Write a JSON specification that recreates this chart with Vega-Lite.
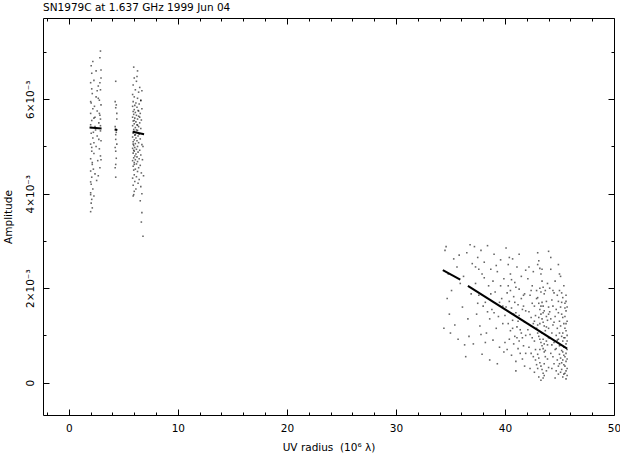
{
"$schema": "https://vega.github.io/schema/vega-lite/v6.json",
"width": 571,
"height": 397,
"autosize": "none",
"padding": {"left": 43, "top": 18, "right": 6, "bottom": 39},
"background": "white",
"config": {
  "view": {"stroke": "black", "strokeWidth": 1},
  "font": "DejaVu Sans",
  "axis": {"grid": false, "domain": false, "tickColor": "black", "tickWidth": 1, "labelColor": "black", "labelFont": "DejaVu Sans", "labelFontSize": 10.5, "titleFont": "DejaVu Sans", "titleFontSize": 10.5, "titleFontWeight": "normal", "titleColor": "black", "labelOverlap": false, "labelFlush": false, "labelBound": false}
},
"title": {"text": "SN1979C at 1.637 GHz 1999 Jun 04", "anchor": "start", "frame": "group", "fontSize": 10.5, "fontWeight": "normal", "font": "DejaVu Sans", "color": "black", "offset": -4, "baseline": "alphabetic"},
"datasets": {
"vis": [
{"u":2.05,"a":0.00671},{"u":2.9,"a":0.00702},{"u":2.85,"a":0.00688},{"u":2.1,"a":0.00655},{"u":2.95,"a":0.00662},{"u":2.3,"a":0.0064},{"u":2.0,"a":0.00635},{"u":2.7,"a":0.00628},{"u":2.9,"a":0.0062},{"u":2.15,"a":0.00612},{"u":2.5,"a":0.00605},{"u":2.8,"a":0.00598},{"u":2.05,"a":0.00592},{"u":2.95,"a":0.00588},{"u":2.2,"a":0.0058},{"u":2.6,"a":0.00575},{"u":2.0,"a":0.0057},{"u":2.85,"a":0.00566},{"u":2.3,"a":0.0056},{"u":2.1,"a":0.00555},{"u":2.75,"a":0.0055},{"u":2.0,"a":0.00546},{"u":2.4,"a":0.00542},{"u":2.9,"a":0.00533},{"u":2.05,"a":0.00528},{"u":2.6,"a":0.00522},{"u":2.2,"a":0.00518},{"u":2.95,"a":0.00512},{"u":2.0,"a":0.00505},{"u":2.5,"a":0.005},{"u":2.8,"a":0.00495},{"u":2.1,"a":0.0049},{"u":2.3,"a":0.00485},{"u":2.9,"a":0.0048},{"u":2.0,"a":0.00474},{"u":2.65,"a":0.0047},{"u":2.15,"a":0.00462},{"u":2.85,"a":0.00455},{"u":2.0,"a":0.00448},{"u":2.4,"a":0.00442},{"u":2.1,"a":0.00435},{"u":2.55,"a":0.00428},{"u":2.05,"a":0.0042},{"u":2.2,"a":0.0041},{"u":2.0,"a":0.00402},{"u":2.3,"a":0.00395},{"u":2.1,"a":0.00388},{"u":2.05,"a":0.0038},{"u":2.15,"a":0.0037},{"u":2.0,"a":0.00362},{"u":2.95,"a":0.00645},{"u":2.2,"a":0.0068},{"u":2.7,"a":0.00602},{"u":2.35,"a":0.00585},{"u":2.9,"a":0.00558},{"u":2.05,"a":0.0054},{"u":2.45,"a":0.00535},{"u":2.75,"a":0.00515},{"u":2.1,"a":0.00498},{"u":2.95,"a":0.00472},{"u":2.25,"a":0.00452},{"u":2.0,"a":0.00425},{"u":2.6,"a":0.00618},{"u":2.8,"a":0.0057},{"u":2.1,"a":0.00622},{"u":2.4,"a":0.00562},{"u":2.0,"a":0.00595},{"u":2.9,"a":0.00544},{"u":2.3,"a":0.00508},{"u":2.15,"a":0.00466},{"u":2.7,"a":0.00438},{"u":2.0,"a":0.00398},{"u":2.5,"a":0.0066},{"u":2.85,"a":0.00635},{"u":2.25,"a":0.0053},
{"u":4.3,"a":0.00638},{"u":4.25,"a":0.00595},{"u":4.35,"a":0.00588},{"u":4.3,"a":0.00582},{"u":4.4,"a":0.00558},{"u":4.25,"a":0.00542},{"u":4.3,"a":0.00536},{"u":4.35,"a":0.0053},{"u":4.3,"a":0.00525},{"u":4.4,"a":0.00505},{"u":4.25,"a":0.00498},{"u":4.3,"a":0.0049},{"u":4.35,"a":0.00475},{"u":4.3,"a":0.00462},{"u":4.25,"a":0.00455},{"u":4.3,"a":0.00435},{"u":4.4,"a":0.0057},{"u":4.3,"a":0.00515},
{"u":5.95,"a":0.00668},{"u":6.3,"a":0.0066},{"u":6.0,"a":0.00645},{"u":6.2,"a":0.00638},{"u":5.9,"a":0.0063},{"u":6.5,"a":0.00625},{"u":6.1,"a":0.0062},{"u":6.4,"a":0.00615},{"u":5.85,"a":0.0061},{"u":6.0,"a":0.00605},{"u":6.3,"a":0.00602},{"u":6.6,"a":0.00598},{"u":5.9,"a":0.00595},{"u":6.15,"a":0.00592},{"u":6.45,"a":0.0059},{"u":6.05,"a":0.00587},{"u":5.85,"a":0.00585},{"u":6.25,"a":0.00583},{"u":6.7,"a":0.0058},{"u":6.0,"a":0.00578},{"u":6.35,"a":0.00576},{"u":5.9,"a":0.00574},{"u":6.1,"a":0.00572},{"u":6.55,"a":0.0057},{"u":5.95,"a":0.00568},{"u":6.2,"a":0.00566},{"u":6.4,"a":0.00564},{"u":5.85,"a":0.00562},{"u":6.05,"a":0.0056},{"u":6.3,"a":0.00558},{"u":6.65,"a":0.00556},{"u":5.9,"a":0.00554},{"u":6.15,"a":0.00552},{"u":6.5,"a":0.0055},{"u":6.0,"a":0.00548},{"u":6.25,"a":0.00546},{"u":5.85,"a":0.00544},{"u":6.4,"a":0.00542},{"u":6.1,"a":0.0054},{"u":6.6,"a":0.00538},{"u":5.95,"a":0.00536},{"u":6.3,"a":0.00534},{"u":6.0,"a":0.00532},{"u":6.2,"a":0.0053},{"u":5.9,"a":0.00528},{"u":6.45,"a":0.00526},{"u":6.05,"a":0.00524},{"u":6.35,"a":0.00522},{"u":5.85,"a":0.0052},{"u":6.15,"a":0.00518},{"u":6.55,"a":0.00516},{"u":6.0,"a":0.00514},{"u":6.25,"a":0.00512},{"u":5.9,"a":0.0051},{"u":6.4,"a":0.00508},{"u":6.1,"a":0.00506},{"u":6.7,"a":0.00504},{"u":5.95,"a":0.00502},{"u":6.3,"a":0.005},{"u":6.05,"a":0.00498},{"u":5.85,"a":0.00496},{"u":6.2,"a":0.00494},{"u":6.5,"a":0.00492},{"u":6.0,"a":0.0049},{"u":6.35,"a":0.00488},{"u":5.9,"a":0.00486},{"u":6.15,"a":0.00484},{"u":6.6,"a":0.00482},{"u":6.05,"a":0.0048},{"u":6.25,"a":0.00478},{"u":5.95,"a":0.00476},{"u":6.45,"a":0.00474},{"u":6.1,"a":0.00472},{"u":5.85,"a":0.0047},{"u":6.3,"a":0.00468},{"u":6.0,"a":0.00466},{"u":6.2,"a":0.00463},{"u":6.55,"a":0.0046},{"u":5.9,"a":0.00458},{"u":6.4,"a":0.00455},{"u":6.1,"a":0.00452},{"u":5.95,"a":0.0045},{"u":6.3,"a":0.00447},{"u":6.65,"a":0.00444},{"u":6.0,"a":0.0044},{"u":6.2,"a":0.00436},{"u":5.85,"a":0.00433},{"u":6.45,"a":0.0043},{"u":6.05,"a":0.00426},{"u":6.35,"a":0.00422},{"u":5.9,"a":0.00418},{"u":6.6,"a":0.00415},{"u":6.15,"a":0.0041},{"u":6.0,"a":0.00405},{"u":6.7,"a":0.004},{"u":5.9,"a":0.00395},{"u":6.55,"a":0.00385},{"u":5.95,"a":0.00398},{"u":6.0,"a":0.00462},{"u":6.7,"a":0.0036},{"u":6.65,"a":0.0034},{"u":6.8,"a":0.0031},{"u":6.6,"a":0.00597},{"u":6.0,"a":0.00555},{"u":6.3,"a":0.00545},{"u":5.9,"a":0.00505},{"u":6.2,"a":0.00535},{"u":6.4,"a":0.00575},{"u":6.1,"a":0.00525},{"u":6.5,"a":0.00562},{"u":5.95,"a":0.00492},{"u":6.25,"a":0.00648},{"u":6.7,"a":0.00618},{"u":6.8,"a":0.005},{"u":6.75,"a":0.00472},{"u":6.85,"a":0.00438},
{"u":34.6,"a":0.00288},{"u":34.5,"a":0.0028},{"u":35.3,"a":0.00262},{"u":34.8,"a":0.0023},{"u":35.6,"a":0.00245},{"u":35.1,"a":0.00195},{"u":34.7,"a":0.00178},{"u":35.9,"a":0.0021},{"u":34.9,"a":0.00145},{"u":35.4,"a":0.00122},{"u":36.1,"a":0.0016},{"u":35.7,"a":0.00092},{"u":36.3,"a":0.0008},{"u":35.0,"a":0.00105},{"u":36.5,"a":0.00275},{"u":36.8,"a":0.00292},{"u":36.2,"a":0.00225},{"u":36.9,"a":0.00188},{"u":36.6,"a":0.00135},{"u":36.4,"a":0.00055},{"u":37.0,"a":0.00252},{"u":36.7,"a":0.00098},{"u":35.8,"a":0.0027},{"u":34.4,"a":0.00115},
{"u":37.2,"a":0.00288},{"u":37.5,"a":0.00265},{"u":37.8,"a":0.0028},{"u":38.1,"a":0.00255},{"u":38.4,"a":0.0029},{"u":38.7,"a":0.0024},{"u":39.0,"a":0.00272},{"u":39.3,"a":0.00235},{"u":39.6,"a":0.0026},{"u":39.9,"a":0.0022},{"u":37.3,"a":0.0021},{"u":37.6,"a":0.00185},{"u":37.9,"a":0.0023},{"u":38.2,"a":0.0017},{"u":38.5,"a":0.00205},{"u":38.8,"a":0.00155},{"u":39.1,"a":0.00192},{"u":39.4,"a":0.0014},{"u":39.7,"a":0.00178},{"u":37.4,"a":0.00145},{"u":37.7,"a":0.0012},{"u":38.0,"a":0.00162},{"u":38.3,"a":0.00105},{"u":38.6,"a":0.00135},{"u":38.9,"a":0.0009},{"u":39.2,"a":0.00115},{"u":39.5,"a":0.00075},{"u":39.8,"a":0.00125},{"u":37.1,"a":0.00082},{"u":37.9,"a":0.0006},{"u":38.6,"a":0.00048},{"u":39.3,"a":0.0004},{"u":39.9,"a":0.00065},{"u":37.5,"a":0.00168},{"u":38.1,"a":0.00222},{"u":38.7,"a":0.00188},{"u":39.0,"a":0.00148},{"u":39.6,"a":0.00205},{"u":37.8,"a":0.00102},{"u":38.4,"a":0.0015},{"u":39.2,"a":0.00248},{"u":39.8,"a":0.00162},{"u":38.9,"a":0.00215},{"u":37.3,"a":0.00245},{"u":39.5,"a":0.0017},{"u":38.2,"a":0.00085},{"u":37.6,"a":0.0024},
{"u":40.1,"a":0.00285},{"u":40.3,"a":0.0025},{"u":40.5,"a":0.0023},{"u":40.7,"a":0.00262},{"u":40.9,"a":0.00212},{"u":41.1,"a":0.00245},{"u":41.3,"a":0.00198},{"u":41.5,"a":0.00225},{"u":41.7,"a":0.00185},{"u":41.9,"a":0.00238},{"u":40.2,"a":0.0019},{"u":40.4,"a":0.00172},{"u":40.6,"a":0.00158},{"u":40.8,"a":0.00182},{"u":41.0,"a":0.00148},{"u":41.2,"a":0.00165},{"u":41.4,"a":0.00135},{"u":41.6,"a":0.00155},{"u":41.8,"a":0.00128},{"u":40.0,"a":0.00142},{"u":40.3,"a":0.00125},{"u":40.5,"a":0.0011},{"u":40.7,"a":0.00132},{"u":40.9,"a":0.00098},{"u":41.1,"a":0.00118},{"u":41.3,"a":0.00088},{"u":41.5,"a":0.00105},{"u":41.7,"a":0.00078},{"u":41.9,"a":0.001},{"u":40.2,"a":0.0007},{"u":40.6,"a":0.00058},{"u":41.0,"a":0.00045},{"u":41.4,"a":0.00062},{"u":41.8,"a":0.00035},{"u":40.4,"a":0.00092},{"u":40.8,"a":0.00082},{"u":41.2,"a":0.00072},{"u":41.6,"a":0.0005},{"u":40.1,"a":0.0016},{"u":40.5,"a":0.00195},{"u":40.9,"a":0.0017},{"u":41.3,"a":0.00142},{"u":41.7,"a":0.00162},{"u":40.3,"a":0.00205},{"u":40.7,"a":0.00115},{"u":41.1,"a":0.00095},{"u":41.5,"a":0.00178},{"u":41.9,"a":0.00152},{"u":40.6,"a":0.00218},{"u":41.0,"a":0.00202},{"u":41.4,"a":0.00112},{"u":41.8,"a":0.00188},{"u":40.8,"a":0.00145},{"u":41.2,"a":0.0013},{"u":41.6,"a":0.00095},{"u":40.0,"a":0.00085},{"u":41.0,"a":0.00025},{"u":41.9,"a":0.00062},{"u":40.4,"a":0.00265},{"u":41.3,"a":0.00272},
{"u":42.1,"a":0.0022},{"u":42.3,"a":0.00185},{"u":42.5,"a":0.00205},{"u":42.7,"a":0.00162},{"u":42.9,"a":0.00195},{"u":43.0,"a":0.00275},{"u":43.1,"a":0.00258},{"u":43.2,"a":0.00242},{"u":43.3,"a":0.0023},{"u":43.4,"a":0.00215},{"u":43.5,"a":0.00202},{"u":43.6,"a":0.00188},{"u":43.8,"a":0.00172},{"u":44.0,"a":0.0016},{"u":42.2,"a":0.0015},{"u":42.4,"a":0.00138},{"u":42.6,"a":0.00125},{"u":42.8,"a":0.00142},{"u":43.0,"a":0.0018},{"u":43.1,"a":0.00168},{"u":43.2,"a":0.00155},{"u":43.3,"a":0.00145},{"u":43.4,"a":0.00135},{"u":43.5,"a":0.00128},{"u":43.6,"a":0.0012},{"u":43.7,"a":0.0011},{"u":43.9,"a":0.00132},{"u":42.1,"a":0.00112},{"u":42.3,"a":0.00102},{"u":42.5,"a":0.00095},{"u":42.7,"a":0.00088},{"u":42.9,"a":0.00115},{"u":43.0,"a":0.00105},{"u":43.1,"a":0.00098},{"u":43.2,"a":0.00092},{"u":43.3,"a":0.00085},{"u":43.4,"a":0.00078},{"u":43.5,"a":0.00072},{"u":43.6,"a":0.00065},{"u":43.8,"a":0.00088},{"u":44.0,"a":0.00095},{"u":42.2,"a":0.00075},{"u":42.4,"a":0.00062},{"u":42.6,"a":0.00055},{"u":42.8,"a":0.00048},{"u":43.0,"a":0.0006},{"u":43.1,"a":0.00052},{"u":43.2,"a":0.00042},{"u":43.3,"a":0.00035},{"u":43.4,"a":0.00028},{"u":43.5,"a":0.0002},{"u":43.6,"a":0.0004},{"u":43.7,"a":0.00055},{"u":43.9,"a":0.0005},{"u":42.3,"a":0.0003},{"u":42.7,"a":0.00022},{"u":43.1,"a":0.00012},{"u":43.3,"a":0.00005},{"u":43.5,"a":0.0001},{"u":43.8,"a":0.00025},{"u":44.0,"a":0.00032},{"u":42.5,"a":0.00168},{"u":42.9,"a":0.00178},{"u":43.2,"a":0.002},{"u":43.4,"a":0.0017},{"u":43.6,"a":0.00152},{"u":43.8,"a":0.0014},{"u":42.6,"a":0.00235},{"u":43.0,"a":0.0025},{"u":43.3,"a":0.00192},{"u":43.5,"a":0.00162},{"u":43.7,"a":0.00195},{"u":43.9,"a":0.0021},{"u":42.8,"a":0.0007},{"u":43.1,"a":0.00138},{"u":43.4,"a":0.00105},{"u":43.6,"a":0.00082},{"u":43.8,"a":0.00118},{"u":44.0,"a":0.00145},{"u":42.4,"a":0.00195},{"u":42.9,"a":0.00038},{"u":43.2,"a":0.00125},{"u":43.5,"a":0.00092},{"u":43.7,"a":0.00068},{"u":43.9,"a":0.0008},{"u":42.2,"a":0.00245},{"u":43.0,"a":0.0003},{"u":43.3,"a":0.00162},{"u":43.5,"a":0.00148},{"u":43.6,"a":0.00015},{"u":43.4,"a":0.0024},{"u":43.2,"a":0.0007},{"u":43.0,"a":0.00122},{"u":42.7,"a":0.0013},{"u":44.0,"a":0.00115},
{"u":44.1,"a":0.002},{"u":44.3,"a":0.00175},{"u":44.5,"a":0.0019},{"u":44.7,"a":0.00155},{"u":44.9,"a":0.00172},{"u":45.1,"a":0.0016},{"u":45.3,"a":0.0018},{"u":45.5,"a":0.00168},{"u":45.6,"a":0.00152},{"u":44.2,"a":0.00135},{"u":44.4,"a":0.00122},{"u":44.6,"a":0.0014},{"u":44.8,"a":0.00115},{"u":45.0,"a":0.0013},{"u":45.2,"a":0.00145},{"u":45.4,"a":0.00125},{"u":45.6,"a":0.0011},{"u":44.1,"a":0.00095},{"u":44.3,"a":0.00105},{"u":44.5,"a":0.00085},{"u":44.7,"a":0.001},{"u":44.9,"a":0.00092},{"u":45.0,"a":0.00105},{"u":45.1,"a":0.0008},{"u":45.2,"a":0.00098},{"u":45.3,"a":0.00088},{"u":45.4,"a":0.00075},{"u":45.5,"a":0.00095},{"u":45.6,"a":0.00082},{"u":45.7,"a":0.0007},{"u":44.2,"a":0.00062},{"u":44.4,"a":0.00055},{"u":44.6,"a":0.0007},{"u":44.8,"a":0.00048},{"u":45.0,"a":0.0006},{"u":45.1,"a":0.00052},{"u":45.2,"a":0.00042},{"u":45.3,"a":0.00065},{"u":45.4,"a":0.00038},{"u":45.5,"a":0.00055},{"u":45.6,"a":0.00045},{"u":45.7,"a":0.0003},{"u":44.3,"a":0.0003},{"u":44.7,"a":0.00025},{"u":44.9,"a":0.00018},{"u":45.1,"a":0.00022},{"u":45.3,"a":0.00012},{"u":45.5,"a":0.0002},{"u":45.6,"a":0.00008},{"u":45.7,"a":0.00015},{"u":44.5,"a":0.0004},{"u":44.9,"a":0.00035},{"u":45.2,"a":0.00028},{"u":45.4,"a":0.00018},{"u":45.6,"a":0.00025},{"u":44.1,"a":0.0015},{"u":44.4,"a":0.00162},{"u":44.8,"a":0.00185},{"u":45.0,"a":0.00195},{"u":45.2,"a":0.0017},{"u":45.5,"a":0.0014},{"u":45.7,"a":0.0013},{"u":44.6,"a":0.00215},{"u":45.1,"a":0.00225},{"u":45.4,"a":0.00205},{"u":45.6,"a":0.00185},{"u":44.2,"a":0.0024},{"u":44.9,"a":0.0025},{"u":45.3,"a":0.00105},{"u":45.5,"a":0.00115},{"u":45.7,"a":0.001},{"u":45.0,"a":0.00078},{"u":45.2,"a":0.00068},{"u":45.4,"a":0.00058},{"u":45.6,"a":0.00062},{"u":45.7,"a":0.0005},{"u":44.3,"a":0.0008},{"u":44.7,"a":0.00072},{"u":45.1,"a":0.0012},{"u":45.3,"a":0.00138},{"u":45.5,"a":0.00158},{"u":44.5,"a":0.00128},{"u":44.8,"a":0.0009},{"u":45.0,"a":0.0004},{"u":45.4,"a":0.00095},{"u":45.6,"a":0.00125},{"u":45.7,"a":0.0016},{"u":44.4,"a":0.00195},{"u":44.6,"a":0.0001},{"u":45.2,"a":0.0019},{"u":45.5,"a":0.00035},{"u":45.6,"a":0.00172},{"u":45.7,"a":0.00088},{"u":44.9,"a":0.00148},{"u":45.3,"a":0.00048},{"u":44.0,"a":0.00278},{"u":44.2,"a":0.00265},{"u":45.0,"a":0.0023}
],
"model": [
{"u":1.9,"a":0.0054,"s":"a"},{"u":3.0,"a":0.00538,"s":"a"},
{"u":4.2,"a":0.00536,"s":"b"},{"u":4.45,"a":0.00535,"s":"b"},
{"u":5.85,"a":0.00531,"s":"c"},{"u":6.9,"a":0.00526,"s":"c"},
{"u":34.3,"a":0.00238,"s":"d"},{"u":35.9,"a":0.00218,"s":"d"},
{"u":36.6,"a":0.00205,"s":"e"},{"u":45.7,"a":0.00072,"s":"e"}
]
},
"layer": [
{
  "data": {"name": "vis"},
  "mark": {"type": "square", "size": 2.5, "color": "black", "opacity": 0.6, "strokeWidth": 0},
  "encoding": {
    "x": {"field": "u", "type": "quantitative", "scale": {"domain": [-2.37, 50], "nice": false, "zero": false},
      "axis": {"orient": "bottom", "values": [-2,0,2,4,6,8,10,12,14,16,18,20,22,24,26,28,30,32,34,36,38,40,42,44,46,48,50],
        "labelExpr": "datum.value % 10 == 0 ? datum.label : ''", "title": "UV radius\u00a0\u00a0(10⁶ λ)",
        "tickSize": {"condition": {"test": "datum.value % 10 != 0", "value": -3}, "value": -6},
        "labelPadding": 14, "titlePadding": 6}},
    "y": {"field": "a", "type": "quantitative", "scale": {"domain": [-0.000685, 0.00772], "nice": false, "zero": false},
      "axis": {"orient": "left", "values": [0,0.001,0.002,0.003,0.004,0.005,0.006,0.007],
        "labelExpr": "datum.value == 0 ? '0' : (round(datum.value*1000) % 2 == 0 ? round(datum.value*1000) + '×10⁻³' : '')",
        "labelAngle": -90, "labelAlign": "center", "labelBaseline": "bottom", "title": "Amplitude",
        "tickSize": {"condition": {"test": "round(datum.value*1000) % 2 != 0", "value": -3}, "value": -6},
        "labelPadding": 14, "titlePadding": 9}}
  }
},
{
  "data": {"name": "model"},
  "mark": {"type": "line", "color": "black", "strokeWidth": 2},
  "encoding": {
    "x": {"field": "u", "type": "quantitative",
      "axis": {"orient": "top", "values": [-2,0,2,4,6,8,10,12,14,16,18,20,22,24,26,28,30,32,34,36,38,40,42,44,46,48,50], "labels": false, "title": null,
        "tickSize": {"condition": {"test": "datum.value % 10 != 0", "value": -3}, "value": -6}}},
    "y": {"field": "a", "type": "quantitative",
      "axis": {"orient": "right", "values": [0,0.001,0.002,0.003,0.004,0.005,0.006,0.007], "labels": false, "title": null,
        "tickSize": {"condition": {"test": "round(datum.value*1000) % 2 != 0", "value": -3}, "value": -6}}},
    "detail": {"field": "s"}
  }
}
],
"resolve": {"axis": {"x": "independent", "y": "independent"}}
}
